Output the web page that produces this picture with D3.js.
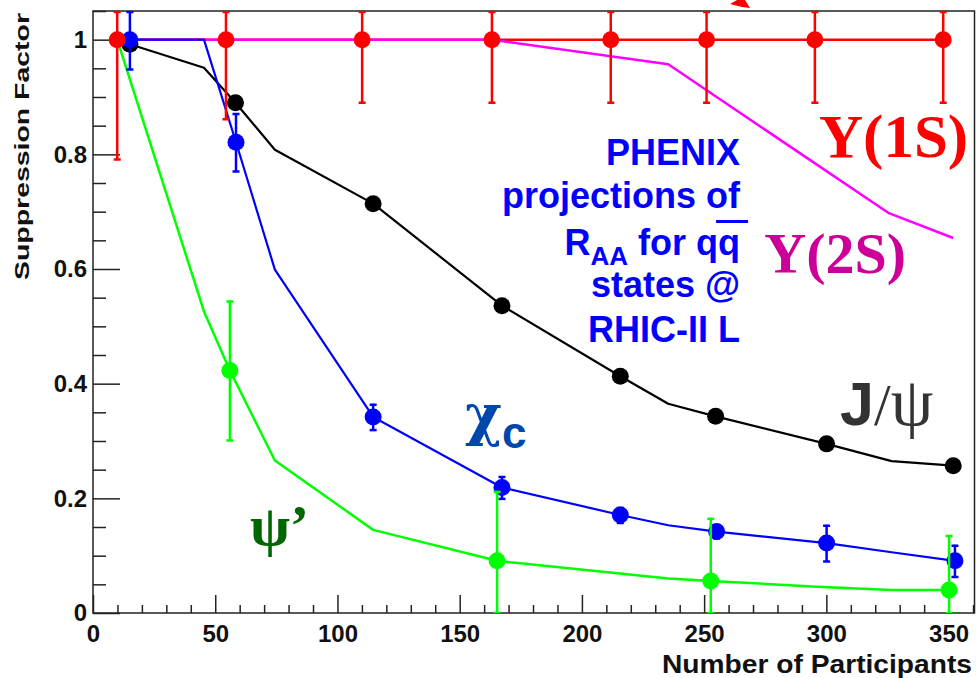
<!DOCTYPE html>
<html>
<head>
<meta charset="utf-8">
<script src="https://cdn.jsdelivr.net/npm/d3@7"></script>
<style>
  body { margin: 0; background: #fff; }
  svg { display: block; font-family: "Liberation Sans", Arial, Helvetica, sans-serif; }
</style>
</head>
<body>
<div id="container"></div>
<script>
// Markers: number of participants and suppression factor
const ups1sNpart = [9.9, 54.4, 110.1, 163.2, 211.8, 251.0, 295.3, 347.8];
const ups1sValue = [1, 1, 1, 1, 1, 1, 1, 1];
const ups1sErr = [0.209, 0.139, 0.11, 0.11, 0.11, 0.11, 0.11, 0.11];

const jpsiNpart = [15.1, 58.3, 114.6, 167.3, 215.7, 254.7, 300.1, 351.9];
const jpsiValue = [0.992, 0.890, 0.714, 0.536, 0.413, 0.343, 0.295, 0.257];

const chicNpart = [15.1, 58.5, 114.6, 167.3, 215.7, 255.1, 300.1, 352.6];
const chicValue = [1.0, 0.821, 0.342, 0.219, 0.171, 0.142, 0.122, 0.091];
const chicErr = [0.052, 0.051, 0.023, 0.02, 0.014, 0.012, 0.032, 0.028];

const psi2sNpart = [56.0, 165.3, 252.7, 350.2];
const psi2sValue = [0.423, 0.091, 0.056, 0.040];
const psi2sErr = [0.122, 0.122, 0.11, 0.096];

// Model curves
const ups1sCurveX = [9.9, 347.8];
const ups1sCurveY = [1, 1];
const ups2sCurveX = [9.9, 163.2, 235.3, 325.3, 351.9];
const ups2sCurveY = [1, 1, 0.957, 0.698, 0.654];
const jpsiCurveX = [9.9, 15.1, 45.4, 58.3, 74.4, 114.6, 167.3, 215.7, 235.3, 254.7, 300.1, 326.7, 351.9];
const jpsiCurveY = [1.0, 0.992, 0.951, 0.890, 0.808, 0.714, 0.536, 0.413, 0.365, 0.343, 0.295, 0.265, 0.257];
const chicCurveX = [15.1, 45.4, 58.5, 74.4, 114.6, 167.3, 215.7, 235.3, 255.1, 300.1, 326.7, 352.6];
const chicCurveY = [1.0, 1.0, 0.821, 0.599, 0.342, 0.219, 0.171, 0.153, 0.142, 0.122, 0.106, 0.091];
const psi2sCurveX = [9.9, 45.4, 56.0, 74.4, 114.6, 165.3, 235.3, 252.7, 296.0, 326.7, 350.2];
const psi2sCurveY = [1.0, 0.526, 0.423, 0.266, 0.145, 0.091, 0.060, 0.056, 0.046, 0.040, 0.040];

// Axes
const xMajorTicks = [0, 50, 100, 150, 200, 250, 300, 350];
const xTickLabels = ["0", "50", "100", "150", "200", "250", "300", "350"];
const yMajorTicks = [0, 0.2, 0.4, 0.6, 0.8, 1];
const yTickLabels = ["0", "0.2", "0.4", "0.6", "0.8", "1"];
const xMinorStep = 10;
const yMinorStep = 0.05;

const width = 977;
const height = 678;
const marginLeft = 93;
const marginRight = 2.5;
const marginTop = 11;
const marginBottom = 65;

const x = d3.scaleLinear().domain([0, 360.6]).range([marginLeft, width - marginRight]);
const y = d3.scaleLinear().domain([0, 1.05]).range([height - marginBottom, marginTop]);

const svg = d3.create("svg")
    .attr("width", width)
    .attr("height", height)
    .attr("viewBox", [0, 0, width, height]);

// attach early so text can be measured
d3.select("#container").append(() => svg.node());

svg.append("rect").attr("width", width).attr("height", height).attr("fill", "#fff");

svg.append("clipPath").attr("id", "frame")
  .append("rect")
    .attr("x", x.range()[0]).attr("y", marginTop)
    .attr("width", x.range()[1] - x.range()[0])
    .attr("height", y.range()[0] - marginTop);

// minor ticks
const xMinor = d3.range(0, 361, xMinorStep).filter(v => !xMajorTicks.includes(v));
const yMinor = d3.range(0, 1.051, yMinorStep).map(v => +v.toFixed(2)).filter(v => !yMajorTicks.includes(v));

svg.append("g")
    .attr("transform", `translate(0,${y(0)})`)
    .call(d3.axisBottom(x).tickValues(xMinor).tickSize(-8).tickFormat(""))
    .call(g => g.select(".domain").remove())
    .selectAll("line").attr("stroke", "#222").attr("stroke-width", 1.5);

svg.append("g")
    .attr("transform", `translate(${x(0)},0)`)
    .call(d3.axisLeft(y).tickValues(yMinor).tickSize(-13).tickFormat(""))
    .call(g => g.select(".domain").remove())
    .selectAll("line").attr("stroke", "#222").attr("stroke-width", 1.5);

// major ticks with labels
const xAxis = svg.append("g")
    .attr("transform", `translate(0,${y(0)})`)
    .call(d3.axisBottom(x).tickValues(xMajorTicks).tickSize(-18).tickPadding(12)
        .tickFormat((d, i) => xTickLabels[i]))
    .call(g => g.select(".domain").remove());
xAxis.selectAll("line").attr("stroke", "#222").attr("stroke-width", 1.5);
xAxis.selectAll("text")
    .attr("fill", "#111")
    .style("font-family", "'Liberation Sans', Arial, sans-serif")
    .style("font-size", "24px").style("font-weight", "bold");

const yAxis = svg.append("g")
    .attr("transform", `translate(${x(0)},0)`)
    .call(d3.axisLeft(y).tickValues(yMajorTicks).tickSize(-27).tickPadding(6)
        .tickFormat((d, i) => yTickLabels[i]))
    .call(g => g.select(".domain").remove());
yAxis.selectAll("line").attr("stroke", "#222").attr("stroke-width", 1.5);
yAxis.selectAll("text")
    .attr("fill", "#111")
    .style("font-family", "'Liberation Sans', Arial, sans-serif")
    .style("font-size", "24px").style("font-weight", "bold");

// frame
svg.append("rect")
    .attr("x", x.range()[0]).attr("y", marginTop)
    .attr("width", x.range()[1] - x.range()[0])
    .attr("height", y.range()[0] - marginTop)
    .attr("fill", "none").attr("stroke", "#222").attr("stroke-width", 1.5);

// axis titles
svg.append("text")
    .attr("transform", `translate(29,${(13 + 280) / 2}) rotate(-90)`)
    .attr("text-anchor", "middle")
    .attr("textLength", 267).attr("lengthAdjust", "spacingAndGlyphs")
    .style("font-size", "21px").style("font-weight", "bold").attr("fill", "#111")
    .text("Suppression Factor");

svg.append("text")
    .attr("x", 972).attr("y", 673)
    .attr("text-anchor", "end")
    .attr("textLength", 310).attr("lengthAdjust", "spacingAndGlyphs")
    .style("font-size", "25px").style("font-weight", "bold").attr("fill", "#111")
    .text("Number of Participants");

const plot = svg.append("g").attr("clip-path", "url(#frame)");
const line = d3.line().x(d => x(d[0])).y(d => y(d[1]));

function drawCurve(xs, ys, color, w) {
  plot.append("path")
      .datum(d3.zip(xs, ys))
      .attr("fill", "none")
      .attr("stroke", color)
      .attr("stroke-width", w)
      .attr("stroke-linejoin", "round")
      .attr("d", line);
}

function drawPoints(xs, ys, errs, color) {
  const pts = d3.zip(xs, ys, errs || xs.map(() => 0));
  const g = plot.append("g");
  const withErr = pts.filter(d => d[2] > 0);
  const top = d => Math.min(d[1] + d[2], y.domain()[1]);
  const bot = d => Math.max(d[1] - d[2], 0);
  g.selectAll(".err").data(withErr).join("line")
      .attr("x1", d => x(d[0])).attr("x2", d => x(d[0]))
      .attr("y1", d => y(top(d))).attr("y2", d => y(bot(d)))
      .attr("stroke", color).attr("stroke-width", 2.5);
  g.selectAll(".capT").data(withErr).join("line")
      .attr("x1", d => x(d[0]) - 3.5).attr("x2", d => x(d[0]) + 3.5)
      .attr("y1", d => y(top(d)) + 1).attr("y2", d => y(top(d)) + 1)
      .attr("stroke", color).attr("stroke-width", 2.5);
  g.selectAll(".capB").data(withErr).join("line")
      .attr("x1", d => x(d[0]) - 3.5).attr("x2", d => x(d[0]) + 3.5)
      .attr("y1", d => y(bot(d))).attr("y2", d => y(bot(d)))
      .attr("stroke", color).attr("stroke-width", 2.5);
  g.selectAll("circle").data(pts).join("circle")
      .attr("cx", d => x(d[0])).attr("cy", d => y(d[1]))
      .attr("r", 8.5).attr("fill", color);
}

drawCurve(ups1sCurveX, ups1sCurveY, "#ff0000", 2.5);
drawCurve(ups2sCurveX, ups2sCurveY, "#ff00ff", 2.5);
drawCurve(jpsiCurveX, jpsiCurveY, "#000000", 2.2);
drawCurve(chicCurveX, chicCurveY, "#0000ff", 2.2);
drawCurve(psi2sCurveX, psi2sCurveY, "#00ff00", 2.5);

drawPoints(jpsiNpart, jpsiValue, null, "#000000");
drawPoints(chicNpart, chicValue, chicErr, "#0000ff");
drawPoints(psi2sNpart, psi2sValue, psi2sErr, "#00ff00");
drawPoints(ups1sNpart, ups1sValue, ups1sErr, "#ff0000");

// clipped red fragment above the frame
svg.append("path")
    .attr("d", "M730,4 L737,0 L745,0 L750,8 L742,7 Z")
    .attr("fill", "#ff0000");

// labels
const serif = "'Liberation Serif', 'Times New Roman', serif";
const greek = "'DejaVu Serif', 'Liberation Serif', serif";
const sans = "'Liberation Sans', Arial, sans-serif";

svg.append("text")
    .attr("x", x(297.0)).attr("y", y(0.7954))
    .style("font-family", serif).style("font-weight", "bold").style("font-size", "61px")
    .attr("fill", "#ff0000")
    .text("Υ(1S)");

svg.append("text")
    .attr("x", x(274.6)).attr("y", y(0.5925))
    .style("font-family", serif).style("font-weight", "bold").style("font-size", "58px")
    .attr("fill", "#cc0099")
    .text("Υ(2S)");

const phenixLines = ["PHENIX", "projections of", null, "states @", "RHIC-II L"];
const phenixBase = [0.7814, 0.7064, 0.6245, 0.5512, 0.4727];
const phenixRight = x(264.7);
phenixLines.forEach((txt, i) => {
  const t = svg.append("text")
      .attr("x", phenixRight).attr("y", y(phenixBase[i]))
      .attr("text-anchor", "end")
      .style("font-family", sans).style("font-weight", "bold").style("font-size", "36px")
      .attr("fill", "#0000ff");
  if (txt) { t.text(txt); return; }
  t.append("tspan").text("R");
  t.append("tspan").attr("dy", 10).style("font-size", "26px").text("AA");
  t.append("tspan").attr("dy", -10).text(" for q");
  t.append("tspan").text("q");
  const n = t.node().getNumberOfChars();
  const ext = t.node().getExtentOfChar(n - 1);
  svg.append("line")
      .attr("x1", ext.x - 2).attr("x2", ext.x + ext.width + 8)
      .attr("y1", y(phenixBase[i]) - 33.5).attr("y2", y(phenixBase[i]) - 33.5)
      .attr("stroke", "#0000ff").attr("stroke-width", 3);
});

const jpsiLabel = svg.append("text")
    .attr("x", x(305.6)).attr("y", y(0.328))
    .attr("fill", "#333333");
jpsiLabel.append("tspan").style("font-family", sans).style("font-weight", "bold").style("font-size", "61px").text("J");
jpsiLabel.append("tspan").style("font-family", serif).style("font-size", "60px").text("/");
jpsiLabel.append("tspan").style("font-family", serif).style("font-size", "68px").text("ψ");

const chicLabel = svg.append("text")
    .attr("x", x(152.2)).attr("y", y(0.312))
    .attr("fill", "#0047ab");
chicLabel.append("tspan").style("font-family", greek).style("font-weight", "bold").style("font-size", "56px").text("χ");
chicLabel.append("tspan").attr("dy", 14).style("font-family", sans).style("font-weight", "bold").style("font-size", "44px").text("c");

svg.append("text")
    .attr("x", x(64.2)).attr("y", y(0.1186))
    .style("font-family", serif).style("font-weight", "bold").style("font-size", "58px")
    .attr("fill", "#006600")
    .text("ψ’");
</script>
</body>
</html>
